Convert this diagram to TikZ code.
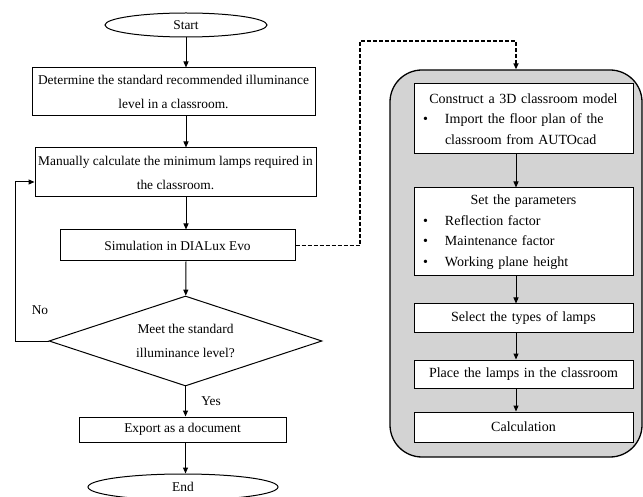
\documentclass[tikz,border=0pt]{standalone}
\usepackage{fontspec}
\setmainfont{Liberation Serif}
\usetikzlibrary{shapes.geometric,arrows.meta}
\definecolor{panelgray}{RGB}{211,211,211}
\newcommand{\bul}[1]{\makebox[31pt][l]{\hspace*{9pt}\textbullet}#1}

\begin{document}
\begin{tikzpicture}[x=1pt, y=-1pt,
    box/.style={draw, line width=1pt, fill=white, align=center, inner sep=0pt,
                font=\fontsize{13.4}{24}\selectfont},
    sub/.style={draw, line width=1pt, fill=white, inner sep=0pt, text width=219pt,
                font=\fontsize{14}{20.5}\selectfont},
    term/.style={draw, ellipse, line width=1pt, inner sep=0pt,
                 font=\fontsize{13.4}{15}\selectfont},
    tag/.style={font=\fontsize{13.4}{15}\selectfont},
    link/.style={-{Triangle[length=6pt,width=5pt]}, line width=1pt},
    jump/.style={-{Triangle[length=6pt,width=5pt]}, line width=1.5pt,
                 dash pattern=on 4pt off 2pt}
]
\useasboundingbox (0,0) rectangle (643,497);
\node[term, minimum width=162pt, minimum height=24pt] (start) at (186,25) {Start};
\node[box, minimum width=283pt, minimum height=48pt] (determine) at (173.5,92)
    {Determine the standard recommended illuminance\\level in a classroom.};
\node[box, minimum width=281pt, minimum height=49pt] (manual) at (175.5,172.5)
    {Manually calculate the minimum lamps required in\\the classroom.};
\node[box, minimum width=235pt, minimum height=31pt] (sim) at (177.5,245.5)
    {Simulation in DIALux Evo};
\node[diamond, draw, line width=1pt, shape aspect=3, inner sep=0pt, align=center,
      minimum width=273pt, minimum height=90pt, font=\fontsize{13.4}{24}\selectfont]
      (meet) at (185.5,341) {Meet the standard\\illuminance level?};
\node[box, minimum width=207pt, minimum height=25pt] (export) at (182.5,429.5)
    {Export as a document};
\node[term, minimum width=190pt, minimum height=26pt] (end) at (183,487) {End};
\node[tag] (no) at (40,310) {No};
\node[tag] (yes) at (211,401) {Yes};

\node[draw, fill=panelgray, line width=1.3pt, rounded corners=32pt,
      minimum width=252pt, minimum height=387pt] (panel) at (516,263.5) {};
\node[sub, align=left, minimum height=70pt] (model) at (523.5,119)
    {\makebox[\linewidth]{Construct a 3D classroom model}\\
     \bul{Import the floor plan of the}\\
     \hspace*{31pt}classroom from AUTOcad};
\node[sub, align=left, minimum height=88pt] (params) at (523.5,232)
    {\makebox[\linewidth]{Set the parameters}\\
     \bul{Reflection factor}\\
     \bul{Maintenance factor}\\
     \bul{Working plane height}};
\node[sub, align=center, minimum height=28pt] (select) at (523.5,318)
    {Select the types of lamps};
\node[sub, align=center, minimum height=28pt] (place) at (523.5,374)
    {Place the lamps in the classroom};
\node[sub, align=center, minimum height=30pt] (calc) at (523.5,427)
    {Calculation};

\draw[link] (start) -- (start |- determine.north);
\draw[link] (start |- determine.south) -- (start |- manual.north);
\draw[link] (start |- manual.south) -- (start |- sim.north);
\draw[link] (start |- sim.south) -- (meet);
\draw[link] (meet) -- (meet |- export.north);
\draw[link] (meet |- export.south) -- (meet |- end.north);
\coordinate (back) at (15,182);
\draw[link] (meet.west) -| (back) -- (back -| manual.west);
\coordinate (hop) at (360,41);
\draw[jump] (sim.east) -| (hop) -| (panel.north);

\draw[link] (panel |- model.south) -- (panel |- params.north);
\draw[link] (panel |- params.south) -- (panel |- select.north);
\draw[link] (panel |- select.south) -- (panel |- place.north);
\draw[link] (panel |- place.south) -- (panel |- calc.north);
\end{tikzpicture}
\end{document}
